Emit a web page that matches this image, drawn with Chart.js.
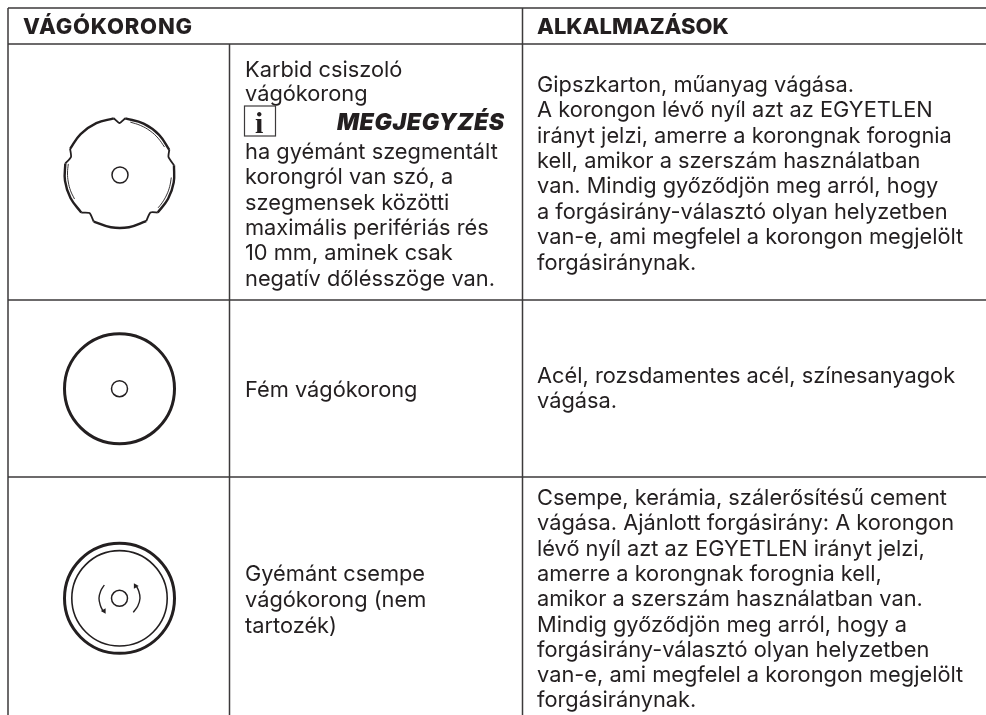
<!DOCTYPE html>
<html lang="hu">
<head>
<meta charset="utf-8">
<title>Vágókorong</title>
<script src="https://cdn.jsdelivr.net/npm/chart.js@4"></script>
<style>
  html, body { margin: 0; padding: 0; background: #fff; }
  canvas { display: block; }
</style>
</head>
<body>
<canvas id="discTable" width="986" height="715"></canvas>
<script>
// table texts
const headers = ['VÁGÓKORONG', 'ALKALMAZÁSOK'];
const discNames1 = ['Karbid csiszoló', 'vágókorong'];
const noteLabel = 'MEGJEGYZÉS';
const noteIcon = 'i';
const discNotes1 = ['ha gyémánt szegmentált', 'korongról van szó, a', 'szegmensek közötti', 'maximális perifériás rés', '10 mm, aminek csak', 'negatív dőlésszöge van.'];
const discNames2 = ['Fém vágókorong'];
const discNames3 = ['Gyémánt csempe', 'vágókorong (nem', 'tartozék)'];
const uses1 = ['Gipszkarton, műanyag vágása.', 'A korongon lévő nyíl azt az EGYETLEN', 'irányt jelzi, amerre a korongnak forognia', 'kell, amikor a szerszám használatban', 'van. Mindig győződjön meg arról, hogy', 'a forgásirány-választó olyan helyzetben', 'van-e, ami megfelel a korongon megjelölt', 'forgásiránynak.'];
const uses2 = ['Acél, rozsdamentes acél, színesanyagok', 'vágása.'];
const uses3 = ['Csempe, kerámia, szálerősítésű cement', 'vágása. Ajánlott forgásirány: A korongon', 'lévő nyíl azt az EGYETLEN irányt jelzi,', 'amerre a korongnak forognia kell,', 'amikor a szerszám használatban van.', 'Mindig győződjön meg arról, hogy a', 'forgásirány-választó olyan helyzetben', 'van-e, ami megfelel a korongon megjelölt', 'forgásiránynak.'];

// table rules: [x1, y1, x2, y2]
const rules = [
  [8, 8, 986, 8], [8, 44, 986, 44], [8, 300, 986, 300], [8, 477, 986, 477],
  [8, 8, 8, 715], [229.5, 44, 229.5, 715], [522.5, 8, 522.5, 715]
];

// disc outlines
const holes = [{x: 120, y: 175}, {x: 119.5, y: 388.7}, {x: 119.5, y: 598.3}];
const plainRims = [{x: 119.5, y: 388.7}, {x: 119.5, y: 598.3}];
const innerRims = [{x: 119.5, y: 598.3}];
const rimArcs = [
  [[125.2, 118.3], [143.6, 123.6], [159.1, 134.8], [169.3, 149.8]],
  [[174.0, 165.3], [173.7, 182.5], [168.1, 198.8], [157.7, 212.6]],
  [[146.2, 221.1], [129.0, 227.2], [110.9, 227.3], [93.7, 221.6]],
  [[81.3, 212.6], [70.5, 198.0], [65.0, 180.7], [65.3, 163.5]],
  [[70.1, 148.9], [80.6, 134.1], [96.3, 123.2], [113.8, 118.3]]
];
const rimNotches = [
  [[113.8, 118.3], [119.5, 123], [125.2, 118.3]],
  [[169.3, 149.8], [168.5, 157], [174.0, 165.3]],
  [[157.7, 212.6], [150.5, 212.5], [146.2, 221.1]],
  [[93.7, 221.6], [89.5, 213], [81.3, 212.6]],
  [[65.3, 163.5], [71, 157], [70.1, 148.9]]
];
const rimLiners = [
  [[130.3, 122.1], [140.6, 125.5], [150.1, 130.9], [158.1, 138.2], [164.5, 147]],
  [[171.3, 177.5], [169.7, 186.5], [166.6, 195], [162.1, 202.8], [158.1, 207.8]],
  [[74.5, 199], [70.6, 190.8], [68.3, 182], [67.5, 173], [68.3, 163.9]]
];
const arrowArcs = [
  [[104.3, 585], [100.7, 591], [99, 598.3], [100.4, 605.5], [103.3, 611.7]],
  [[133.3, 612.3], [137.8, 606], [140, 598.3], [138.7, 591], [135.7, 585]]
];
const arrowHeads = [{x: 104, y: 611}, {x: 135.5, y: 586}];
const arrowAngles = [150, -30];

const INK = '#231f20';
const RULE = '#3c3a3b';
const toPts = a => a.map(p => ({x: p[0], y: p[1]}));

const ruleData = [];
rules.forEach(r => {
  ruleData.push({x: r[0], y: r[1]}, {x: r[2], y: r[3]}, {x: r[2], y: NaN});
});

const lineSet = (data, width, tension) => ({
  type: 'scatter', data, showLine: true, fill: false, borderColor: INK, borderWidth: width,
  tension: tension || 0, pointRadius: 0, spanGaps: false
});
const ringSet = (data, radius, width) => ({
  type: 'scatter', data, showLine: false, pointStyle: 'circle', pointRadius: radius,
  pointBorderWidth: width, pointBorderColor: INK, pointBackgroundColor: 'rgba(0,0,0,0)'
});

const datasets = [
  Object.assign(lineSet(ruleData, 1.5), {borderColor: RULE}),
  ringSet(plainRims, 55, 3),
  ringSet(innerRims, 47.7, 1.6),
  ringSet(holes, 8, 1.5)
];
rimArcs.forEach(a => datasets.push(lineSet(toPts(a), 2.4, 0.4)));
rimNotches.forEach(a => datasets.push(lineSet(toPts(a), 1.8, 0.2)));
rimLiners.forEach(a => datasets.push(lineSet(toPts(a), 0.9, 0.4)));
arrowArcs.forEach(a => datasets.push(lineSet(toPts(a), 1.4, 0.4)));
datasets.push({
  type: 'scatter', data: arrowHeads, showLine: false, pointStyle: 'triangle', pointRadius: 3.2,
  rotation: arrowAngles, pointBackgroundColor: INK, pointBorderColor: INK, pointBorderWidth: 0
});

// text blocks: which lines go where, in axis units
const BODY = '21.8px Inter';
const textBlocks = [
  {lines: [headers[0]], x: 23, y: 34, step: 0, font: '800 22px Inter', spacing: 0.8},
  {lines: [headers[1]], x: 537, y: 34, step: 0, font: '800 22px Inter', spacing: 0},
  {lines: discNames1, x: 245, y: 76.5, step: 24.5, font: BODY, spacing: 0},
  {lines: [noteLabel], x: 337, y: 130, step: 0, font: 'italic 900 23px Inter', spacing: 0.6},
  {lines: discNotes1, x: 245, y: 159, step: 25.3, font: BODY, spacing: 0},
  {lines: discNames2, x: 245, y: 397, step: 0, font: BODY, spacing: 0},
  {lines: discNames3, x: 245, y: 580.5, step: 26.3, font: BODY, spacing: 0},
  {lines: uses1, x: 537, y: 91.7, step: 25.4, font: BODY, spacing: 0},
  {lines: uses2, x: 537, y: 383.3, step: 25, font: BODY, spacing: 0},
  {lines: uses3, x: 537, y: 505, step: 25.3, font: BODY, spacing: 0},
  {lines: [noteIcon], x: 255, y: 133, step: 0, font: 'bold 30px "Liberation Serif"', spacing: 0}
];
const noteBox = [244.5, 106, 275.5, 136];

const tableText = {
  id: 'tableText',
  afterDraw(chart) {
    const {ctx, scales: {x, y}} = chart;
    ctx.save();
    ctx.fillStyle = INK;
    ctx.textBaseline = 'alphabetic';
    ctx.textAlign = 'left';
    textBlocks.forEach(b => {
      ctx.font = b.font;
      ctx.letterSpacing = b.spacing + 'px';
      b.lines.forEach((t, i) => {
        ctx.fillText(t, x.getPixelForValue(b.x), y.getPixelForValue(b.y + i * b.step));
      });
    });
    ctx.strokeStyle = RULE;
    ctx.lineWidth = 1.2;
    const bx = x.getPixelForValue(noteBox[0]), by = y.getPixelForValue(noteBox[1]);
    ctx.strokeRect(bx, by, x.getPixelForValue(noteBox[2]) - bx, y.getPixelForValue(noteBox[3]) - by);
    ctx.restore();
  }
};

new Chart(document.getElementById('discTable'), {
  type: 'scatter',
  data: {datasets},
  plugins: [tableText],
  options: {
    responsive: false,
    animation: false,
    events: [],
    layout: {padding: 0, autoPadding: false},
    plugins: {legend: {display: false}, tooltip: {enabled: false}, title: {display: false}},
    scales: {
      x: {type: 'linear', min: 0, max: 986, display: false},
      y: {type: 'linear', min: 0, max: 715, reverse: true, display: false}
    }
  }
});
</script>
</body>
</html>
